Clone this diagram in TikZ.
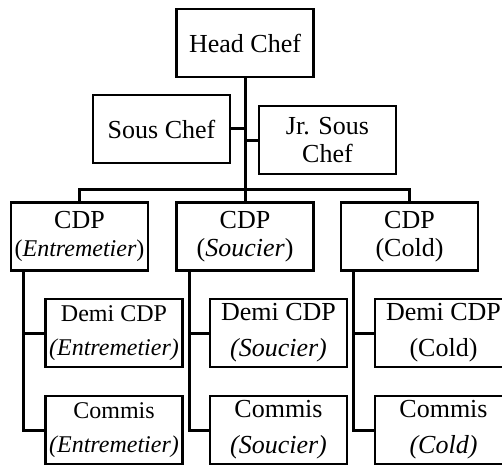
\documentclass[tikz,border=0pt]{standalone}
\usepackage{fontspec}
\setmainfont{Liberation Serif}
\begin{document}
\begin{tikzpicture}[x=1pt,y=-1pt,
    box/.style={draw,line width=2.1pt,minimum width=137pt,minimum height=68pt,inner sep=0pt,align=center,font=\fontsize{26}{28}\selectfont},
    subbox/.style={box,font=\fontsize{26}{36}\selectfont},
    subboxsmall/.style={box,font=\fontsize{24}{34}\selectfont},
    conn/.style={line width=3pt}]
\useasboundingbox (0,0) rectangle (502,465);
\node[box] (head) at (245,43) {Head Chef};
\node[box] (sous) at (161.5,129) {Sous Chef};
\node[box] (jr) at (327.5,140) {Jr. Sous\\Chef};
\node[box] (cdpE) at (79.5,236.5) {CDP\\{\fontsize{24}{28}\selectfont(\textit{Entremetier})}};
\node[box] (cdpS) at (245,236.5) {CDP\\(\textit{Soucier})};
\node[box] (cdpC) at (409.5,236.5) {CDP\\(Cold)};
\node[subboxsmall] (demiE) at (114,333) {Demi CDP\\\textit{(Entremetier)}};
\node[subbox] (demiS) at (278.5,333) {Demi CDP\\\textit{(Soucier)}};
\node[subbox] (demiC) at (443.5,333) {Demi CDP\\(Cold)};
\node[subboxsmall] (commisE) at (114,430) {Commis\\\textit{(Entremetier)}};
\node[subbox] (commisS) at (278.5,430) {Commis\\\textit{(Soucier)}};
\node[subbox] (commisC) at (443.5,430) {Commis\\\textit{(Cold)}};
\coordinate (bar) at (245,189);
\draw[conn] (head) -- (cdpS);
\draw[conn] (sous) -- (sous -| head);
\draw[conn] (jr) -- (jr -| head);
\draw[conn] (cdpE.north) |- (bar) -| (cdpC.north);
\draw[conn] ([xshift=14pt]cdpE.south west) |- (demiE.west);
\draw[conn] ([xshift=14pt]cdpE.south west) |- (commisE.west);
\draw[conn] ([xshift=14pt]cdpS.south west) |- (demiS.west);
\draw[conn] ([xshift=14pt]cdpS.south west) |- (commisS.west);
\draw[conn] ([xshift=14pt]cdpC.south west) |- (demiC.west);
\draw[conn] ([xshift=14pt]cdpC.south west) |- (commisC.west);
\end{tikzpicture}
\end{document}
